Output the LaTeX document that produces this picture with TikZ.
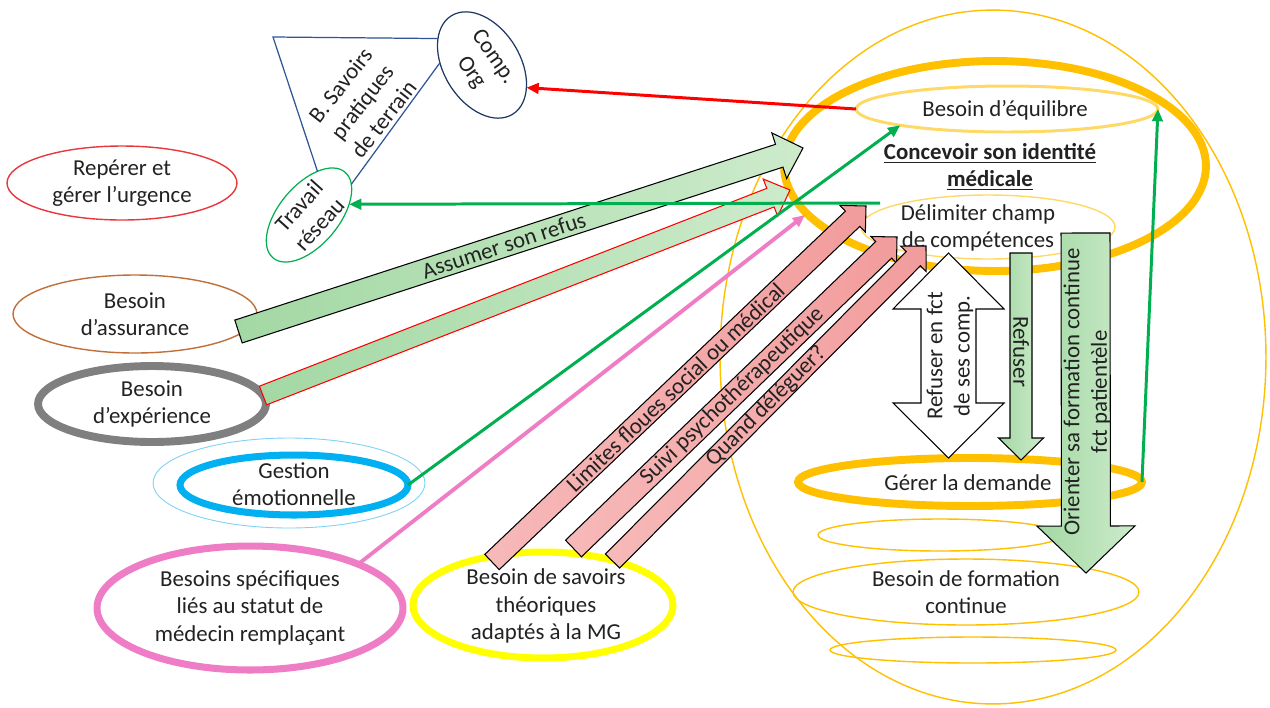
\documentclass[tikz,border=0pt]{standalone}
\usepackage{fontspec}
\setmainfont{Carlito}
\usetikzlibrary{calc,shapes.geometric,arrows.meta}

\definecolor{ora}{HTML}{FFC000}
\definecolor{oralight}{HTML}{FFD966}
\definecolor{gr}{HTML}{00B050}
\definecolor{pk}{HTML}{EE7DC6}
\definecolor{blu}{HTML}{00B0F0}
\definecolor{blulight}{HTML}{7FD2F5}
\definecolor{navy}{HTML}{203864}
\definecolor{tri}{HTML}{2F5597}
\definecolor{brn}{HTML}{C0703A}
\definecolor{gry}{HTML}{7F7F7F}
\definecolor{yel}{HTML}{FFFF00}
\definecolor{redov}{HTML}{E8383D}
\definecolor{txt}{HTML}{222222}
\definecolor{grA}{HTML}{A3D8A4}
\definecolor{grB}{HTML}{CDEBCB}
\definecolor{pkA}{HTML}{F7B9B9}
\definecolor{pkB}{HTML}{F29C9C}

% block arrow: #1 style, #2 tail, #3 tip, #4 shaft half-width, #5 head half-width, #6 head length
\newcommand{\blockarr}[6]{%
  \path ($(#3)!#6!(#2)$) coordinate (ba-base);
  \draw[#1] ($(#2)!#4!90:(#3)$) -- ($(ba-base)!#4!-90:(#2)$) -- ($(ba-base)!#5!-90:(#2)$)
    -- (#3) -- ($(ba-base)!#5!90:(#2)$) -- ($(ba-base)!#4!90:(#2)$) -- ($(#2)!#4!-90:(#3)$) -- cycle;}

\tikzset{
  every node/.style={font=\fontsize{13}{15.6}\selectfont, align=center, text=txt},
  oval/.style={ellipse, inner sep=0pt, outer sep=0pt},
  thinora/.style={oval, draw=ora, line width=0.8pt},
  thickora/.style={oval, draw=ora, line width=4.5pt},
  paleora/.style={oval, draw=oralight},
  greenblock/.style={draw=black, line width=0.6pt, left color=grA, right color=grB},
  pinkblock/.style={draw=black, line width=0.6pt, left color=pkA, right color=pkB},
  link/.style={line width=1.7pt, -{Triangle[length=7pt,width=6pt]}},
}

\begin{document}
\begin{tikzpicture}[x=0.02cm,y=-0.02cm]
\useasboundingbox (0,0) rectangle (1270,707);
\fill[white] (0,0) rectangle (1270,707);

% ---- right-hand cluster of needs ----
\node[thinora, minimum width=10.92cm, minimum height=13.88cm] (outer) at (993,357) {};
\node[thinora, minimum width=4.88cm, minimum height=0.64cm] (ringA) at (940,535) {};
\node[thinora, minimum width=6.92cm, minimum height=1.32cm] (form) at (966,592) {};
\node at (form) {Besoin de formation\\continue};
\node[thinora, minimum width=5.72cm, minimum height=0.52cm] (ringC) at (973,650) {};

\node[thickora, minimum width=8.44cm, minimum height=4.2cm] (ident) at (995,166) {};
\node at (990,167) {\textbf{\underline{Concevoir son identité}}\\\textbf{\underline{médicale}}};
\node[paleora, line width=1.7pt, minimum width=6.04cm, minimum height=0.92cm] (equil) at (1007,109) {};
\node at (1005,110) {Besoin d’équilibre};
\node[paleora, line width=0.8pt, minimum width=5.08cm, minimum height=1.28cm] (delim) at (988,227) {};
\node at (978,228) {Délimiter champ\\de compétences};
\node[thickora, minimum width=6.88cm, minimum height=0.96cm] (gerer) at (970,482) {};
\node at (968,483) {Gérer la demande};

% ---- left-hand needs ----
\node[oval, draw=redov, line width=0.8pt, minimum width=4.6cm, minimum height=1.48cm] (reperer) at (122,183) {};
\node at (reperer) {Repérer et\\gérer l’urgence};
\node[oval, draw=brn, line width=0.8pt, minimum width=4.88cm, minimum height=1.56cm] (assur) at (135,314) {};
\node at (assur) {Besoin\\d’assurance};
\node[oval, draw=gry, line width=4.5pt, minimum width=4.56cm, minimum height=1.52cm] (exper) at (152,404) {};
\node at (exper) {Besoin\\d’expérience};
\node[oval, draw=blulight, line width=0.5pt, minimum width=5.44cm, minimum height=1.8cm] (gestout) at (289,483) {};
\node[oval, draw=blu, line width=4pt, minimum width=4.56cm, minimum height=1.2cm] (gest) at (294,485) {};
\node at (294,484) {Gestion\\émotionnelle};
\node[oval, draw=pk, line width=4pt, minimum width=6.12cm, minimum height=2.48cm] (specif) at (250,608) {};
\node at (specif) {Besoins spécifiques\\liés au statut de\\médecin remplaçant};
\node[oval, draw=yel, line width=4pt, minimum width=5.2cm, minimum height=2.12cm] (savoirs) at (543,605) {};
\node at (546,606) {Besoin de savoirs\\théoriques\\adaptés à la MG};

% ---- practical field knowledge ----
\node[oval, draw=navy, line width=0.7pt, rotate=-58, minimum width=2.32cm, minimum height=1.52cm] (comp) at (482,65) {};
\node[rotate=-55] at (comp) {Comp.\\Org};
\node[oval, draw=gr, line width=0.7pt, rotate=50, minimum width=2.24cm, minimum height=1.2cm] (trav) at (309,215) {};
\node[rotate=48] at (trav) {Travail\\réseau};
\coordinate (corner) at (273,37);
\draw[tri, line width=0.7pt] (comp.207) -- (corner) -- (trav.29);
\draw[tri, line width=0.7pt] (comp.235) -- (trav.-14);
\node[rotate=52] at (362,102) {B. Savoirs\\pratiques\\de terrain};

% ---- block arrows ----
\draw[fill=white, draw=black, line width=0.6pt] (948.5,355.5) coordinate (dbl)
  ++(0,-102.5) -- ++(55.5,56) -- ++(-28,0) -- ++(0,94) -- ++(28,0) -- ++(-55.5,55)
  -- ++(-55.5,-55) -- ++(28,0) -- ++(0,-94) -- ++(-28,0) -- cycle;
\node[rotate=90] at (950,356) {Refuser en fct\\de ses comp.};

\coordinate (asA) at (238.5,331.5); \coordinate (asB) at (803,148);
\blockarr{greenblock}{asA}{asB}{0.24cm}{0.48cm}{0.5cm}
\path (asA) -- (asB) node[pos=0.47, sloped] {Assumer son refus};

\coordinate (exA) at (263,395.5); \coordinate (exB) at (790,190);
\blockarr{greenblock, draw=red}{exA}{exB}{0.2cm}{0.4cm}{0.42cm}

\coordinate (p1A) at (492,562); \coordinate (p1B) at (866,206);
\blockarr{pinkblock}{p1A}{p1B}{0.21cm}{0.37cm}{0.37cm}
\path (p1A) -- (p1B) node[pos=0.49, sloped] {Limites floues social ou médical};

\coordinate (p2A) at (573.5,548.5); \coordinate (p2B) at (897,237);
\blockarr{pinkblock}{p2A}{p2B}{0.23cm}{0.37cm}{0.37cm}
\path (p2A) -- (p2B) node[pos=0.49, sloped] {Suivi psychothérapeutique};

\coordinate (p3A) at (612.5,561); \coordinate (p3B) at (926,246);
\blockarr{pinkblock}{p3A}{p3B}{0.2cm}{0.36cm}{0.36cm}
\path (p3A) -- (p3B) node[pos=0.49, sloped] {Quand déléguer?};

\coordinate (rfA) at (1021,253); \coordinate (rfB) at (1021,460);
\blockarr{greenblock}{rfA}{rfB}{0.22cm}{0.45cm}{0.44cm}
\node[rotate=-90] at (1021,352) {Refuser};

\coordinate (orA) at (1085.5,233); \coordinate (orB) at (1086,573);
\blockarr{greenblock}{orA}{orB}{0.49cm}{0.98cm}{0.94cm}
\node[rotate=90] at (1087,392) {Orienter sa formation continue\\fct patientèle};

% ---- thin links ----
\draw[link, red] (equil.west) -- (comp.31);
\coordinate (gstart) at (880,203);
\draw[link, gr] (gstart) -- (trav.-35);
\draw[link, gr] (gest.east) -- (equil.south west);
\draw[link, gr] (gerer.east) -- (equil.east);
\coordinate (pkend) at (805,215);
\draw[link, pk, line width=2.2pt] (specif.north east) -- (pkend);
\end{tikzpicture}
\end{document}
